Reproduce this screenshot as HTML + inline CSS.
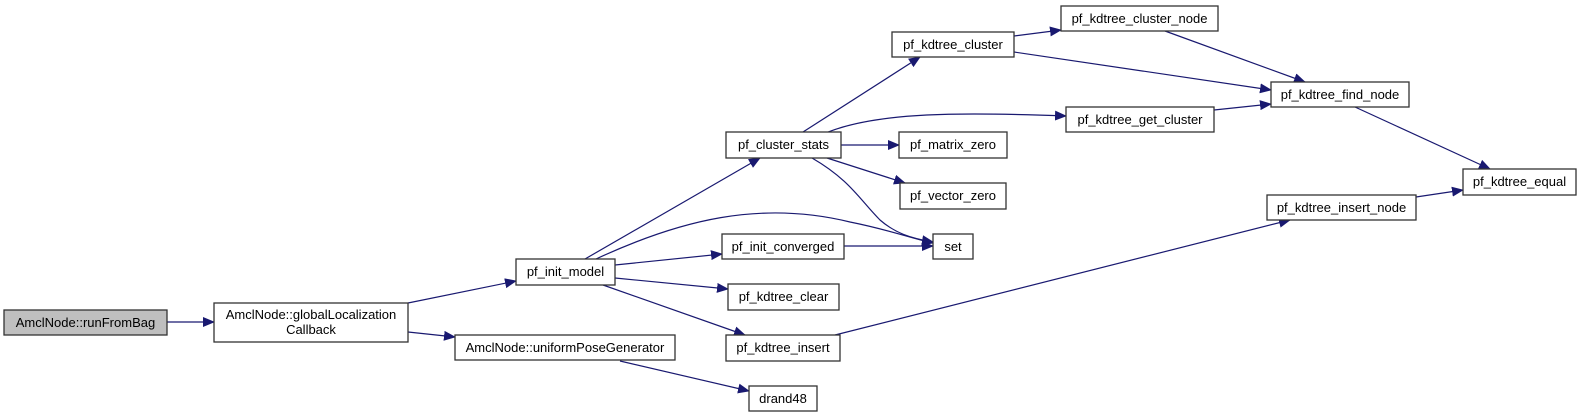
<!DOCTYPE html>
<html><head><meta charset="utf-8"><style>
html,body{margin:0;padding:0;background:#fff;}
svg{display:block;}
text{font-family:"Liberation Sans",Arial,sans-serif;font-size:13px;fill:#000;}
</style></head><body>
<svg width="1581" height="417" viewBox="0 0 1581 417" xmlns="http://www.w3.org/2000/svg">
<defs>
<marker id="a" markerWidth="12" markerHeight="10" refX="11" refY="5" orient="auto" markerUnits="userSpaceOnUse">
<path d="M0,0 L12,5 L0,10 z" fill="#191970"/>
</marker>
</defs>
<g fill="none" stroke="#191970" stroke-width="1.2" marker-end="url(#a)">
<path d="M167,322 L214,322"/>
<path d="M408,303 L516,281"/>
<path d="M408,332 L455,337"/>
<path d="M585,259 L760,158"/>
<path d="M596,259 C680,220 760,200 850,222 C890,230 910,238 933,243"/>
<path d="M615,265 L722,254"/>
<path d="M615,278 L728,289"/>
<path d="M603,285 L745,335"/>
<path d="M620,361 L749,391"/>
<path d="M803,132 L920,57"/>
<path d="M828,132 C880,112 960,112 1066,116"/>
<path d="M841,145 L899,145"/>
<path d="M827,158 L905,183"/>
<path d="M812,158 C850,180 860,200 880,220 C895,233 910,238 933,242"/>
<path d="M844,246 L933,246"/>
<path d="M835,335 L1290,220"/>
<path d="M1014,36 L1061,30"/>
<path d="M1014,52 L1271,90"/>
<path d="M1165,31 L1305,82"/>
<path d="M1214,110 L1271,104"/>
<path d="M1355,107 L1490,169"/>
<path d="M1416,197 L1463,190"/>
</g>
<g stroke="#333" stroke-width="1.3" fill="#fff">
<rect x="4" y="310" width="163" height="25" fill="#bfbfbf"/>
<rect x="214" y="303" width="194" height="39"/>
<rect x="516" y="259" width="99" height="26"/>
<rect x="455" y="335" width="220" height="25"/>
<rect x="749" y="386" width="68" height="25"/>
<rect x="726" y="132" width="115" height="26"/>
<rect x="722" y="234" width="122" height="25"/>
<rect x="728" y="284" width="111" height="26"/>
<rect x="726" y="335" width="114" height="26"/>
<rect x="933" y="234" width="40" height="25"/>
<rect x="899" y="132" width="108" height="26"/>
<rect x="900" y="183" width="106" height="26"/>
<rect x="892" y="32" width="122" height="25"/>
<rect x="1061" y="6" width="157" height="25"/>
<rect x="1066" y="107" width="148" height="25"/>
<rect x="1271" y="82" width="138" height="25"/>
<rect x="1267" y="195" width="149" height="25"/>
<rect x="1463" y="169" width="113" height="26"/>
</g>
<g text-anchor="middle">
<text x="85.5" y="327">AmclNode::runFromBag</text>
<text x="311" y="319">AmclNode::globalLocalization</text>
<text x="311" y="334">Callback</text>
<text x="565.5" y="276">pf_init_model</text>
<text x="565" y="352">AmclNode::uniformPoseGenerator</text>
<text x="783" y="403">drand48</text>
<text x="783.5" y="149">pf_cluster_stats</text>
<text x="783" y="251">pf_init_converged</text>
<text x="783.5" y="301">pf_kdtree_clear</text>
<text x="783" y="352">pf_kdtree_insert</text>
<text x="953" y="251">set</text>
<text x="953" y="149">pf_matrix_zero</text>
<text x="953" y="200">pf_vector_zero</text>
<text x="953" y="49">pf_kdtree_cluster</text>
<text x="1139.5" y="23">pf_kdtree_cluster_node</text>
<text x="1140" y="124">pf_kdtree_get_cluster</text>
<text x="1340" y="99">pf_kdtree_find_node</text>
<text x="1341.5" y="212">pf_kdtree_insert_node</text>
<text x="1519.5" y="186">pf_kdtree_equal</text>
</g>
</svg>
</body></html>
